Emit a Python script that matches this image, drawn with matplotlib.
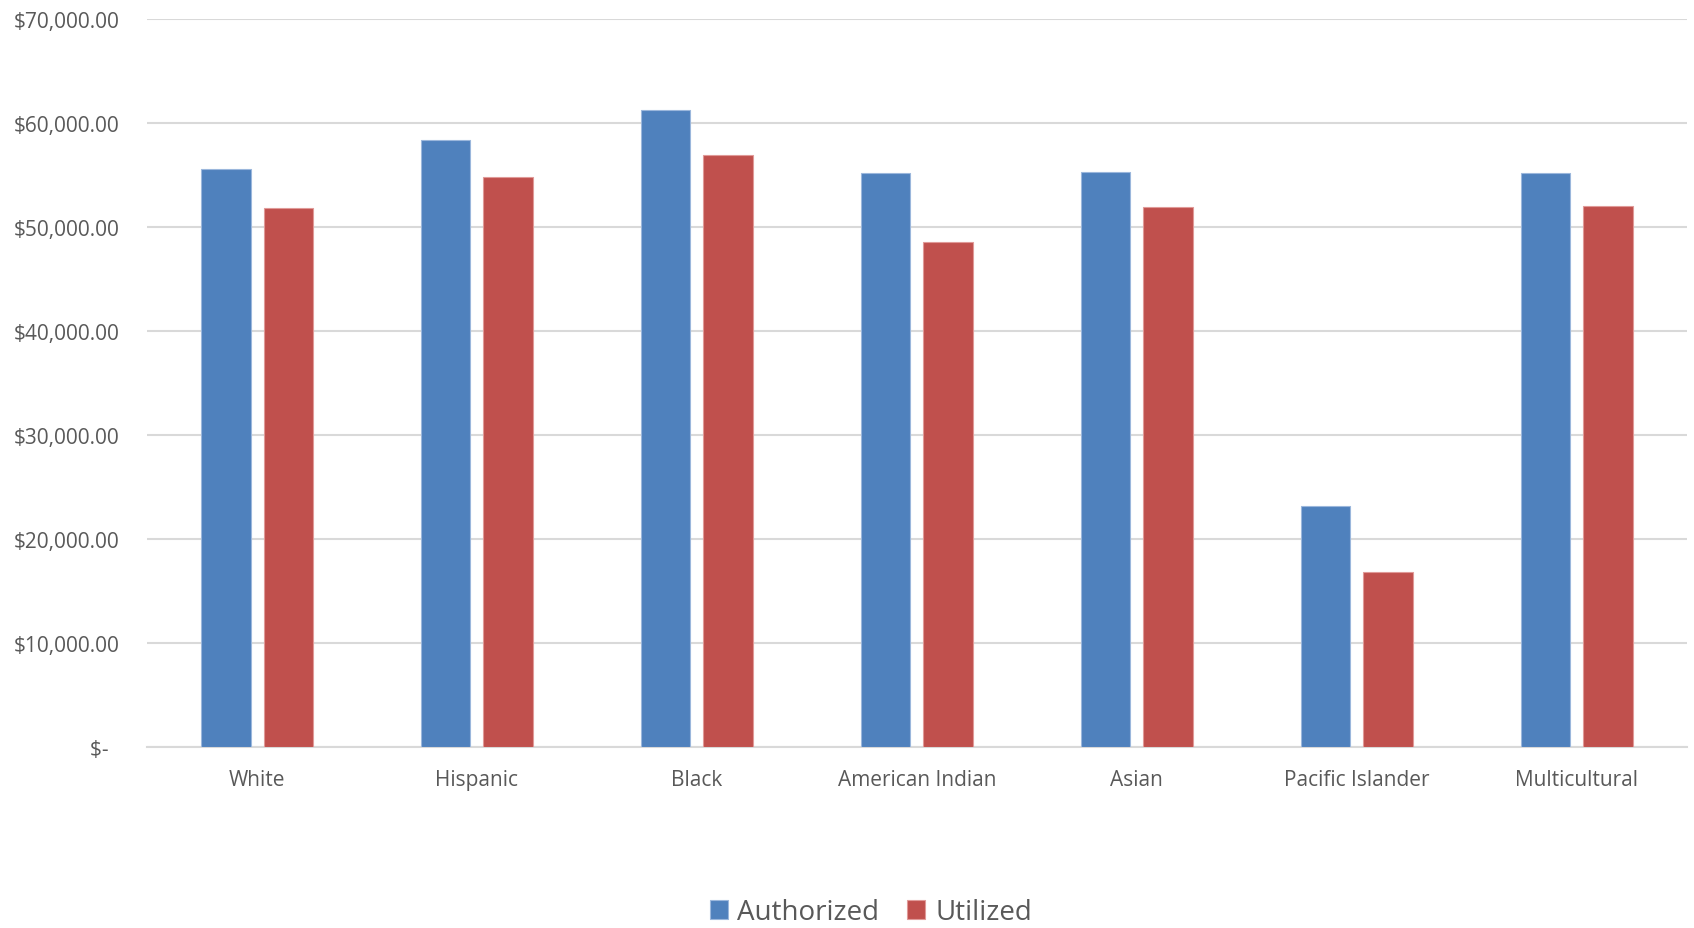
import numpy as np
import matplotlib.pyplot as plt
from matplotlib.ticker import FuncFormatter

categories = ["White", "Hispanic", "Black", "American Indian", "Asian",
              "Pacific Islander", "Multicultural"]
authorized = [55550, 58300, 61200, 55130, 55290, 23170, 55160]
utilized = [51770, 54750, 56870, 48500, 51900, 16800, 51950]

plt.rcParams['font.family'] = ['Open Sans', 'DejaVu Sans']
text_color = '#595959'

fig = plt.figure(figsize=(16.94, 9.29), dpi=100)
ax = fig.add_axes([0.0868, 0.1952, 0.9089, 0.7838])

x = np.arange(len(categories))
w = 0.225
ax.bar(x - 0.142, authorized, w, color='#4f81bd', edgecolor='#9bb7dc',
       linewidth=0.8, label='Authorized', zorder=3)
ax.bar(x + 0.142, utilized, w, color='#c0504d', edgecolor='#e09a98',
       linewidth=0.8, label='Utilized', zorder=3)

ax.set_xlim(-0.5, len(categories) - 0.5)
ax.set_ylim(0, 70000)
ax.set_yticks(np.arange(0, 70001, 10000))


def money(v, pos):
    if v == 0:
        return '$-  '
    return '${:,.2f}'.format(v)


ax.yaxis.set_major_formatter(FuncFormatter(money))
ax.set_xticks(x)
ax.set_xticklabels(categories)
ax.tick_params(axis='both', length=0, labelsize=15, colors=text_color)
ax.tick_params(axis='x', pad=16)
ax.tick_params(axis='y', pad=20)
ax.grid(axis='y', color='#d9d9d9', linewidth=1.5, zorder=0)
for s in ['top', 'right', 'left']:
    ax.spines[s].set_visible(False)
ax.spines['bottom'].set_color('#d9d9d9')
ax.spines['bottom'].set_linewidth(1.5)

leg = fig.legend(loc='lower center', bbox_to_anchor=(0.514, -0.025), ncol=2,
                 frameon=False, fontsize=20, handlelength=0.65,
                 handleheight=0.65, handletextpad=0.35, columnspacing=1.0)
for t in leg.get_texts():
    t.set_color(text_color)

fig.savefig('out.png', dpi=100)
